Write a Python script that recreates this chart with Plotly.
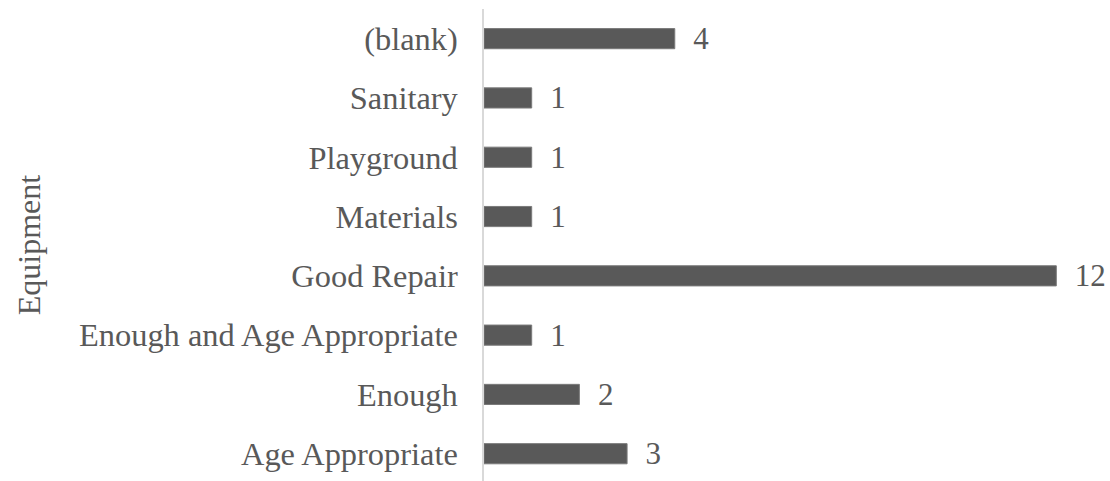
import plotly.graph_objects as go

categories = ["Age Appropriate", "Enough", "Enough and Age Appropriate", "Good Repair",
              "Materials", "Playground", "Sanitary", "(blank)"]
counts = [3, 2, 1, 12, 1, 1, 1, 4]
axis_title = "Equipment"

FONT = "Liberation Serif, Times New Roman, serif"
GRAY = "#595959"

fig = go.Figure(go.Bar(
    x=counts, y=categories, orientation="h",
    marker=dict(color=GRAY, line=dict(color="#7a7a7a", width=1)),
    text=counts, texttemplate="\u00a0\u00a0%{x}", textposition="outside",
    textfont=dict(family=FONT, size=31, color=GRAY),
    constraintext="none",
    cliponaxis=False,
    hoverinfo="skip",
))

fig.update_layout(
    width=1110, height=481,
    margin=dict(l=484, r=6, t=9, b=0, autoexpand=False),
    paper_bgcolor="white", plot_bgcolor="white",
    bargap=0.66,
    showlegend=False,
    font=dict(family=FONT, size=32, color=GRAY),
)
fig.update_xaxes(range=[0, 13], visible=False, showgrid=False, zeroline=False)
fig.update_yaxes(
    range=[-0.46, 7.5], showgrid=False, zeroline=False, automargin=False,
    showline=True, linecolor="#d9d9d9", linewidth=1.5,
    ticks="", ticklabelstandoff=18,
    tickfont=dict(family=FONT, size=32.4, color=GRAY),
    title=dict(text=axis_title, font=dict(family=FONT, size=32, color=GRAY), standoff=29),
)

fig.write_html("out.html", config={"displayModeBar": False},
               post_script="document.body.style.margin='0';document.body.style.overflow='hidden';")
